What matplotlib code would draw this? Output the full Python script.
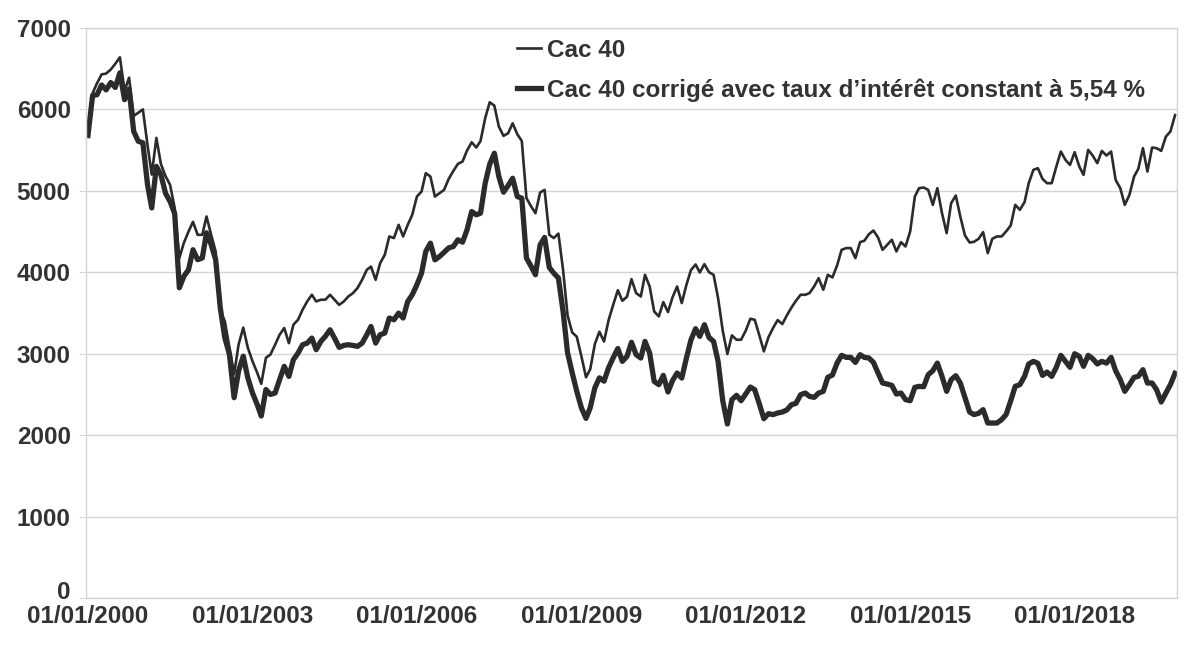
import matplotlib
matplotlib.use("Agg")
import matplotlib.pyplot as plt
import matplotlib.dates as mdates
import matplotlib.transforms as mtransforms
import pandas as pd

plt.rcParams["font.family"] = ["Liberation Sans", "DejaVu Sans"]

# Monthly values, Jan 2000 -> Nov 2019
cac40 = [
    5680, 6200, 6320, 6430, 6440, 6490, 6560, 6640, 6230, 6390, 5920, 5960,  # 2000
    6000, 5560, 5200, 5650, 5330, 5180, 5075, 4790, 4175, 4360, 4500, 4620,  # 2001
    4460, 4460, 4685, 4460, 4255, 3520, 3400, 3075, 2750, 3115, 3320, 3075,  # 2002
    2910, 2770, 2630, 2950, 2990, 3110, 3233, 3315, 3130, 3356, 3417, 3540,  # 2003
    3642, 3724, 3642, 3663, 3663, 3724, 3663, 3600, 3642, 3703, 3744, 3806,  # 2004
    3908, 4030, 4070, 3908, 4112, 4215, 4440, 4420, 4583, 4440, 4583, 4706,  # 2005
    4930, 4992, 5217, 5176, 4930, 4971, 5012, 5147, 5245, 5331, 5360, 5495,  # 2006
    5597, 5532, 5613, 5892, 6088, 6047, 5790, 5675, 5708, 5830, 5695, 5613,  # 2007
    4910, 4810, 4725, 4980, 5012, 4460, 4420, 4475, 4030, 3470, 3260, 3210,  # 2008
    2970, 2710, 2810, 3120, 3270, 3150, 3410, 3600, 3780, 3650, 3700, 3915,  # 2009
    3744, 3703, 3969, 3826, 3519, 3458, 3634, 3511, 3695, 3826, 3622, 3839,  # 2010
    4027, 4096, 3998, 4100, 4002, 3969, 3683, 3282, 2996, 3225, 3172, 3172,  # 2011
    3282, 3429, 3417, 3225, 3029, 3204, 3315, 3413, 3364, 3470, 3568, 3650,  # 2012
    3724, 3724, 3744, 3826, 3928, 3785, 3969, 3937, 4084, 4276, 4297, 4297,  # 2013
    4174, 4370, 4387, 4468, 4513, 4427, 4276, 4337, 4399, 4256, 4370, 4317,  # 2014
    4501, 4930, 5033, 5041, 5012, 4828, 5033, 4726, 4481, 4849, 4943, 4685,  # 2015
    4452, 4366, 4374, 4411, 4493, 4235, 4411, 4440, 4440, 4501, 4575, 4828,  # 2016
    4767, 4861, 5094, 5258, 5278, 5147, 5094, 5094, 5299, 5483, 5380, 5319,  # 2017
    5475, 5299, 5196, 5503, 5434, 5340, 5491, 5434, 5483, 5135, 5033, 4828,  # 2018
    4951, 5176, 5270, 5524, 5237, 5532, 5524, 5491, 5667, 5729, 5930,        # 2019
]

cac40_corrige = [
    5680, 6170, 6180, 6300, 6240, 6330, 6270, 6450, 6120, 6250, 5730, 5610,  # 2000
    5590, 5075, 4790, 5300, 5200, 4970, 4870, 4720, 3810, 3950, 4030, 4277,  # 2001
    4155, 4175, 4485, 4340, 4155, 3560, 3195, 2990, 2460, 2790, 2970, 2705,  # 2002
    2520, 2380, 2235, 2560, 2500, 2517, 2681, 2845, 2722, 2926, 3008, 3110,  # 2003
    3130, 3192, 3049, 3151, 3213, 3294, 3192, 3078, 3102, 3110, 3102, 3090,  # 2004
    3130, 3233, 3335, 3130, 3233, 3254, 3438, 3417, 3499, 3438, 3642, 3724,  # 2005
    3847, 3990, 4256, 4358, 4153, 4194, 4245, 4300, 4317, 4399, 4370, 4521,  # 2006
    4746, 4706, 4726, 5094, 5327, 5462, 5176, 4984, 5065, 5155, 4930, 4910,  # 2007
    4175, 4073, 3970, 4338, 4428, 4060, 3990, 3930, 3521, 3010, 2765, 2540,  # 2008
    2337, 2206, 2337, 2582, 2704, 2663, 2827, 2950, 3064, 2906, 2968, 3140,  # 2009
    2988, 2947, 3151, 3008, 2660, 2620, 2734, 2530, 2673, 2763, 2701, 2939,  # 2010
    3168, 3307, 3213, 3356, 3200, 3151, 2906, 2423, 2137, 2436, 2489, 2423,  # 2011
    2505, 2591, 2558, 2382, 2202, 2264, 2252, 2272, 2284, 2309, 2374, 2391,  # 2012
    2497, 2517, 2476, 2464, 2517, 2538, 2710, 2738, 2885, 2980, 2955, 2955,  # 2013
    2894, 2988, 2955, 2947, 2894, 2763, 2640, 2628, 2611, 2505, 2517, 2436,  # 2014
    2423, 2587, 2599, 2595, 2742, 2791, 2885, 2722, 2538, 2681, 2730, 2640,  # 2015
    2464, 2284, 2252, 2268, 2313, 2149, 2149, 2149, 2190, 2252, 2423, 2599,  # 2016
    2620, 2722, 2874, 2906, 2882, 2734, 2775, 2722, 2833, 2980, 2906, 2833,  # 2017
    3000, 2967, 2845, 2980, 2939, 2874, 2906, 2885, 2955, 2791, 2681, 2538,  # 2018
    2620, 2710, 2722, 2804, 2640, 2640, 2558, 2407, 2517, 2620, 2760,        # 2019
]

labels = ["Cac 40", "Cac 40 corrigé avec taux d’intérêt constant à 5,54 %"]
tick_years = [2000, 2003, 2006, 2009, 2012, 2015, 2018]

dates = pd.date_range("2000-01-01", periods=len(cac40), freq="MS")

text_color = "#333333"
line_color = "#2b2b2b"
grid_color = "#d4d4d4"

fig = plt.figure(figsize=(12, 6.45), dpi=100)
ax = fig.add_axes([86 / 1200, 1 - 598 / 645, (1177 - 86) / 1200, (598 - 28) / 645])

ax.plot(dates, cac40, color=line_color, lw=1.9, label=labels[0])
ax.plot(dates, cac40_corrige, color=line_color, lw=3.8, label=labels[1])

ax.set_ylim(0, 7000)
ax.set_yticks(range(0, 7001, 1000))
ax.set_xlim(dates[0] - pd.Timedelta(days=13), dates[-1] + pd.Timedelta(days=13))
ax.set_xticks([pd.Timestamp(f"{y}-01-01") for y in tick_years])
ax.xaxis.set_major_formatter(mdates.DateFormatter("%d/%m/%Y"))

ax.yaxis.grid(True, color=grid_color, lw=1)
ax.set_axisbelow(True)
for side in ["left", "right", "top", "bottom"]:
    ax.spines[side].set_color(grid_color)
    ax.spines[side].set_linewidth(1)

ax.tick_params(axis="y", length=5, color=grid_color, pad=6,
               labelsize=17.5, labelcolor=text_color)
ax.tick_params(axis="x", length=0, pad=5,
               labelsize=17.5, labelcolor=text_color)
for lab in ax.get_xticklabels() + ax.get_yticklabels():
    lab.set_fontweight("bold")
for lab in ax.get_yticklabels():
    lab.set_verticalalignment("center_baseline")

# the "0" label sits a little higher, clear of the first date label
zero_lab = ax.get_yticklabels()[0]
zero_lab.set_transform(zero_lab.get_transform()
                       + mtransforms.ScaledTranslation(0, 8 / 100, fig.dpi_scale_trans))

leg = ax.legend(loc="upper left", bbox_to_anchor=((512 - 86) / 1091, 0.99),
                frameon=False, handlelength=1.0, handletextpad=0.22,
                labelspacing=0.68, borderaxespad=0.0, borderpad=0.2,
                prop={"weight": "bold", "size": 17.5})
for t in leg.get_texts():
    t.set_color(text_color)
leg.get_lines()[0].set_linewidth(1.9)
leg.get_lines()[1].set_linewidth(3.8)

fig.savefig("out.png", dpi=100, facecolor="white")
